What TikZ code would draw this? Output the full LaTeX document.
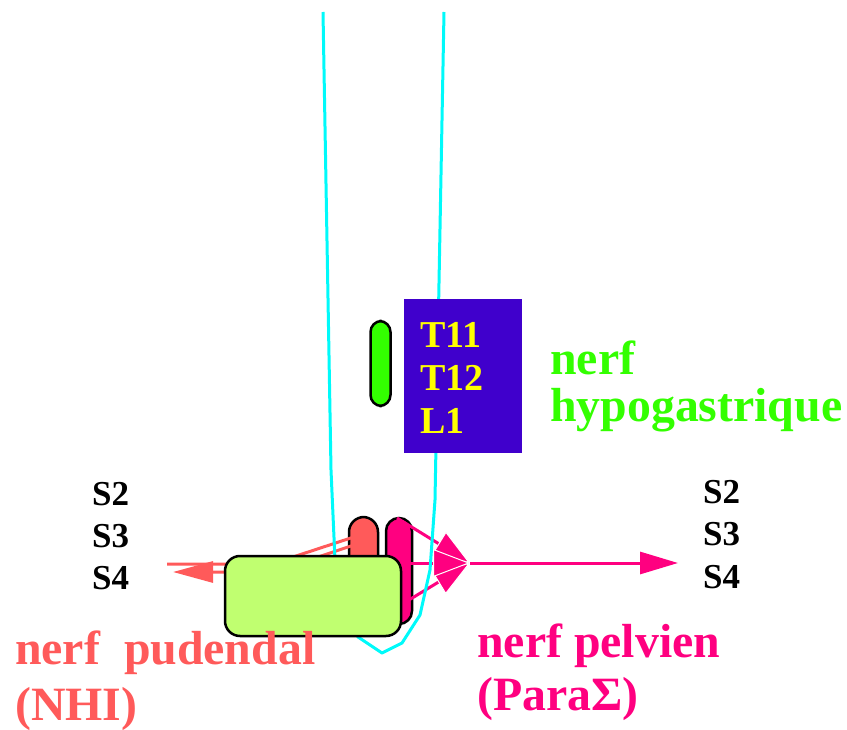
\documentclass[tikz,border=0pt]{standalone}
\usepackage{fontspec}
\setmainfont{Liberation Serif}
\usetikzlibrary{arrows.meta}

\definecolor{canal}{RGB}{0,250,250}
\definecolor{hypo}{RGB}{51,255,0}
\definecolor{segment}{RGB}{64,0,204}
\definecolor{seg}{RGB}{255,255,0}
\definecolor{pud}{RGB}{255,90,90}
\definecolor{pelv}{RGB}{255,0,128}
\definecolor{ganglion}{RGB}{192,255,112}

\tikzset{
  pill/.style={draw=black, line width=2.5pt, rounded corners=#1, inner sep=0pt},
  lbl/.style={anchor=base west, inner sep=0pt, font=\fontsize{47.8}{48}\selectfont\bfseries},
  root/.style={anchor=base west, inner sep=0pt, font=\fontsize{35}{35}\selectfont\bfseries},
  level/.style={anchor=base west, inner sep=0pt, text=seg, font=\fontsize{38}{38}\selectfont\bfseries},
  pudline/.style={draw=pud, line width=3pt, line join=round},
  pelvline/.style={draw=pelv, line width=3pt},
  pelvtip/.style={-{Triangle[length=37pt, width=28pt, color=white, fill=pelv, line width=1pt]}},
}

\begin{document}
\begin{tikzpicture}[x=1pt, y=-1pt]
\useasboundingbox (0,0) rectangle (847,730);

% sacral rootlets: salmon and pink pills
\node[pill=15pt, fill=pud, minimum width=29pt, minimum height=83pt] (pillR) at (363.5,558.5) {};
\node[pill=13pt, fill=pelv, minimum width=26pt, minimum height=106pt] (pillP) at (399,571) {};

% pudendal fibres towards the left
\coordinate (r1) at (363,534);
\coordinate (r2) at (363,542);
\coordinate (pudEnd) at (167,564);
\coordinate (pudTip) at (173,572);
\draw[pudline] (r1) -- (290,558) -- (240,564) -- (pudEnd);
\draw[pudline, -{Triangle[length=40pt, width=21pt]}] (r2) -- (300,563) -- (240,572) -- (pudTip);

% pelvic fibres converging to the right
\coordinate (pUp) at (397,518);
\coordinate (pMid) at (399,563);
\coordinate (pLow) at (399,606);
\coordinate (join) at (470,563);
\coordinate (pelvEnd) at (678,563);
\draw[pelvline, pelvtip] (pUp) -- (join);
\draw[pelvline, pelvtip] (pLow) -- (join);
\draw[pelvline, pelvtip] (pMid) -- (join);
\draw[pelvline, -{Triangle[length=38pt, width=22pt]}] (join) -- (pelvEnd);

% spinal canal outline
\draw[canal, line width=3pt, line join=round]
  (323,12) -- (331,470) -- (335,560) -- (345,615) -- (358,637) -- (382,653)
  -- (402,643) -- (420,615) -- (430,570) -- (435,500) -- (444,12);

% ganglion
\node[draw=black, line width=2.5pt, fill=ganglion, rounded corners=15pt,
      minimum width=176pt, minimum height=80pt, inner sep=0pt] (gang) at (313,596) {};

% thoraco-lumbar segment
\node[pill=11pt, fill=hypo, minimum width=20pt, minimum height=85pt] (pillG) at (380.5,363.5) {};
\node[fill=segment, minimum width=118pt, minimum height=154pt, inner sep=0pt] (tl) at (463,376) {};
\node[level] (t11) at (420,348) {T11};
\node[level] (t12) at (420,390) {T12};
\node[level] (l1) at (420,433) {L1};

% sacral levels
\node[root] (sl2) at (92,505) {S2};
\node[root] (sl3) at (92,547) {S3};
\node[root] (sl4) at (92,589) {S4};
\node[root] (sr2) at (703,503) {S2};
\node[root] (sr3) at (703,545) {S3};
\node[root] (sr4) at (703,588) {S4};

% nerve names
\node[lbl, text=hypo] (hyp1) at (550,374) {nerf};
\node[lbl, text=hypo] (hyp2) at (550,421) {hypogastrique};
\node[lbl, text=pud] (pud1) at (15,664) {nerf\ \ pudendal};
\node[lbl, text=pud] (pud2) at (15,720) {(NHI)};
\node[lbl, text=pelv] (pel1) at (477,657) {nerf pelvien};
\node[lbl, text=pelv] (pel2) at (477,710) {(ParaΣ)};
\end{tikzpicture}
\end{document}
